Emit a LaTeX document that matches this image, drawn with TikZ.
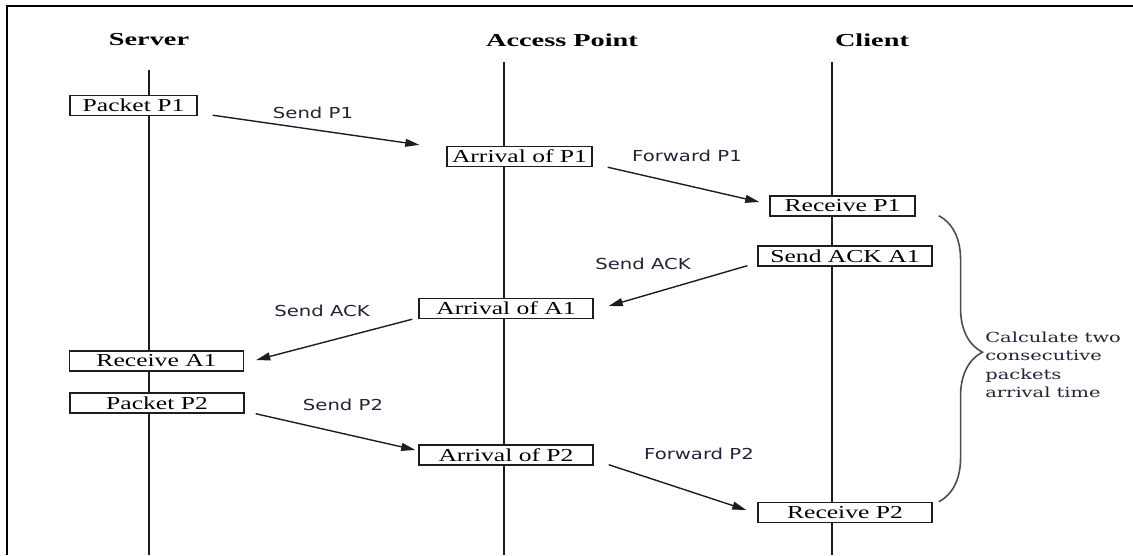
\documentclass[tikz,border=0pt]{standalone}
\usepackage{fontspec}
\setmainfont{Liberation Serif}
\newfontfamily\titlefont{Liberation Serif}[FakeStretch=1.55]
\newfontfamily\boxfont{Liberation Serif}[FakeStretch=1.4]
\newfontfamily\lblfont{DejaVu Sans}[FakeStretch=1.3]
\newfontfamily\bracefont{DejaVu Serif}[FakeStretch=1.4]
\usetikzlibrary{arrows.meta,calc,decorations.pathreplacing}
\definecolor{ink}{RGB}{30,30,30}
\definecolor{lbltext}{RGB}{35,35,55}
\begin{document}
\begin{tikzpicture}[x=0.02cm,y=-0.02cm,
  frame/.style={draw=black,line width=1.4pt,line join=miter},
  life/.style={draw=ink,line width=1pt},
  title/.style={font=\titlefont\bfseries\fontsize{10.4}{12}\selectfont,text=black},
  evbox/.style={draw=ink,fill=white,line width=0.8pt,inner sep=0pt,
    font=\boxfont\fontsize{10.4}{12}\selectfont,minimum height=0.4cm},
  wbox/.style={evbox,minimum width=3.48cm},
  mbox/.style={evbox,minimum width=2.9cm},
  msg/.style={draw=ink,line width=0.8pt,-{Triangle[length=8pt,width=4.5pt]}},
  lbl/.style={font=\lblfont\fontsize{8.6}{10}\selectfont,text=lbltext,inner sep=0pt},
  bracestyle/.style={draw=black!70,line width=0.9pt,decorate,
    decoration={brace,amplitude=24.9pt,aspect=0.477}},
  bracelbl/.style={font=\bracefont\fontsize{7.9}{10.5}\selectfont,text=lbltext,
    align=left,inner sep=0pt}
]
\useasboundingbox (0,0) rectangle (1133,555);
\draw[frame] (7,555) -- (7,6) -- (1133,6);

% titles
\node[title] (tS) at (149,40) {Server};
\node[title] (tA) at (562,40) {Access Point};
\node[title] (tC) at (872,40) {Client};

% lifelines
\coordinate (sTop) at (149,70);  \coordinate (sBot) at (149,555);
\coordinate (aTop) at (504,62);  \coordinate (aBot) at (504,555);
\coordinate (cTop) at (832,62);  \coordinate (cBot) at (832,555);
\draw[life] (sTop) -- (sBot);
\draw[life] (aTop) -- (aBot);
\draw[life] (cTop) -- (cBot);

% event boxes
\node[evbox,minimum width=2.54cm] (P1) at (133.5,105.5) {Packet P1};
\node[mbox] (AP1) at (519.5,156.5) {Arrival of P1};
\node[mbox] (RP1) at (842.5,206) {Receive P1};
\node[wbox] (SA1) at (845,256) {Send ACK A1};
\node[wbox] (AA1) at (506,308.5) {Arrival of A1};
\node[wbox] (RA1) at (156.5,361) {Receive A1};
\node[wbox] (P2) at (157,403) {Packet P2};
\node[wbox] (AP2) at (506,455) {Arrival of P2};
\node[wbox] (RP2) at (845,512.5) {Receive P2};

% messages
\draw[msg] ($(P1.south east)+(15,-1)$) -- ($(AP1.north west)+(-27,-1)$);
\draw[msg] ($(AP1.south east)+(15,0)$) -- ($(RP1.west)+(-10,-4)$);
\draw[msg] ($(SA1.south west)+(-10,-1)$) -- ($(AA1.east)+(15,-2.5)$);
\draw[msg] ($(AA1.south west)+(-6,0)$) -- ($(RA1.east)+(12,-1)$);
\draw[msg] ($(P2.south east)+(11,0)$) -- ($(AP2.west)+(-3,-5)$);
\draw[msg] ($(AP2.south east)+(15,-1)$) -- ($(RP2.west)+(-11,-2.5)$);

% message labels
\node[lbl] (l1) at (313,113) {Send P1};
\node[lbl] (l2) at (687,156) {Forward P1};
\node[lbl] (l3) at (643,264) {Send ACK};
\node[lbl] (l4) at (322,311) {Send ACK};
\node[lbl] (l5) at (343,405) {Send P2};
\node[lbl] (l6) at (699,454) {Forward P2};

% brace
\draw[bracestyle] ($(RP1.south east)+(23,-1)$) -- ($(RP2.north east)+(6,0)$);
\node[bracelbl,anchor=west] (calc) at (985,365)
  {Calculate two\\consecutive\\packets\\arrival time};
\end{tikzpicture}
\end{document}
